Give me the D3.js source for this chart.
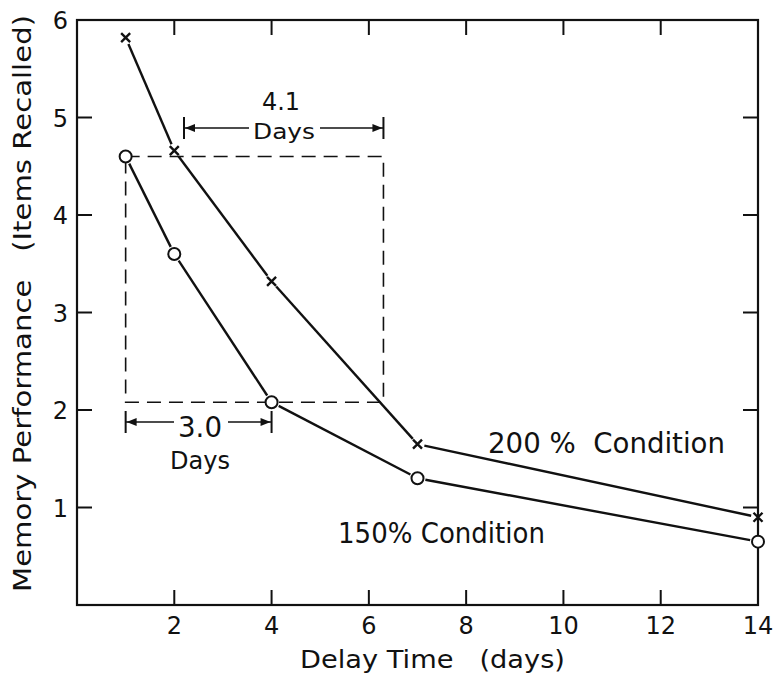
<!DOCTYPE html>
<html>
<head>
<meta charset="utf-8">
<script src="https://cdn.jsdelivr.net/npm/d3@7"></script>
<style>
  body { margin: 0; background: #fff; }
  text { font-family: 'DejaVu Sans', sans-serif; fill: #111; }
</style>
</head>
<body>
<div class="chart"></div>
<script>
// Memory performance vs delay time, two conditions
const width = 773;
const height = 675;
const margin = {top: 20, left: 77, right: 15, bottom: 70};

// data
const delayDays = [1, 2, 4, 7, 14];
const recall200 = [5.82, 4.66, 3.32, 1.65, 0.9];
const recall150 = [4.6, 3.6, 2.08, 1.3, 0.65];
const xTicks = [2, 4, 6, 8, 10, 12, 14];
const yTicks = [1, 2, 3, 4, 5, 6];

// the dashed box and the two "days" annotations
const boxDays = [1, 6.3];
const boxRecall = [2.08, 4.6];
const span41 = [2.2, 6.3];
const span30 = [1, 4];

const x = d3.scaleLinear().domain([0, 14]).range([margin.left, width - margin.right]);
const y = d3.scaleLinear().domain([0, 6]).range([height - margin.bottom, margin.top]);

const svg = d3.select('.chart').append('svg')
    .attr('width', width)
    .attr('height', height);

const x0 = x.range()[0], x1 = x.range()[1];
const y0 = y.range()[0], y1 = y.range()[1];

// frame
svg.append('rect')
    .attr('x', x0).attr('y', y1)
    .attr('width', x1 - x0).attr('height', y0 - y1)
    .attr('fill', 'none').attr('stroke', '#111').attr('stroke-width', 2.2);

// inward ticks on all four sides
const tickLen = 15;
xTicks.filter(d => d < 14).forEach(d => {
    svg.append('line').attr('x1', x(d)).attr('x2', x(d)).attr('y1', y0).attr('y2', y0 - tickLen)
        .attr('stroke', '#111').attr('stroke-width', 2);
    svg.append('line').attr('x1', x(d)).attr('x2', x(d)).attr('y1', y1).attr('y2', y1 + tickLen)
        .attr('stroke', '#111').attr('stroke-width', 2);
});
yTicks.filter(d => d < 6).forEach(d => {
    svg.append('line').attr('x1', x0).attr('x2', x0 + tickLen).attr('y1', y(d)).attr('y2', y(d))
        .attr('stroke', '#111').attr('stroke-width', 2);
    svg.append('line').attr('x1', x1).attr('x2', x1 - tickLen).attr('y1', y(d)).attr('y2', y(d))
        .attr('stroke', '#111').attr('stroke-width', 2);
});

// tick labels
svg.selectAll('.xlab').data(xTicks).enter().append('text')
    .attr('x', d => x(d)).attr('y', y0 + 29)
    .attr('text-anchor', 'middle')
    .attr('font-size', 24)
    .text(d => d);

svg.selectAll('.ylab').data(yTicks).enter().append('text')
    .attr('x', x0 - 9).attr('y', d => y(d) + 9)
    .attr('text-anchor', 'end')
    .attr('font-size', 24)
    .text(d => d);

// axis titles
svg.append('text')
    .attr('x', 300).attr('y', height - 7)
    .attr('font-size', 24)
    .attr('textLength', 265).attr('lengthAdjust', 'spacingAndGlyphs')
    .attr('xml:space', 'preserve')
    .text('Delay Time   (days)');

svg.append('text')
    .attr('transform', `translate(31,592) rotate(-90)`)
    .attr('font-size', 25)
    .attr('textLength', 577).attr('lengthAdjust', 'spacingAndGlyphs')
    .attr('xml:space', 'preserve')
    .text('Memory Performance   (Items Recalled)');

// dashed box
svg.append('rect')
    .attr('x', x(boxDays[0])).attr('y', y(boxRecall[1]))
    .attr('width', x(boxDays[1]) - x(boxDays[0]))
    .attr('height', y(boxRecall[0]) - y(boxRecall[1]))
    .attr('fill', 'none').attr('stroke', '#111').attr('stroke-width', 1.6)
    .attr('stroke-dasharray', '14,8');

// lines with small gaps around markers
function drawSeries(vals, gap) {
    for (let i = 0; i < delayDays.length - 1; i++) {
        const ax = x(delayDays[i]), ay = y(vals[i]);
        const bx = x(delayDays[i + 1]), by = y(vals[i + 1]);
        const len = Math.hypot(bx - ax, by - ay);
        const ux = (bx - ax) / len, uy = (by - ay) / len;
        svg.append('line')
            .attr('x1', ax + ux * gap).attr('y1', ay + uy * gap)
            .attr('x2', bx - ux * gap).attr('y2', by - uy * gap)
            .attr('stroke', '#111').attr('stroke-width', 2.4);
    }
}
drawSeries(recall200, 7);
drawSeries(recall150, 8);

// x markers
const xs = 4.5;
delayDays.forEach((d, i) => {
    const cx = x(d), cy = y(recall200[i]);
    svg.append('path')
        .attr('d', `M${cx - xs},${cy - xs}L${cx + xs},${cy + xs}M${cx - xs},${cy + xs}L${cx + xs},${cy - xs}`)
        .attr('stroke', '#111').attr('stroke-width', 2.4);
});

// circle markers
svg.selectAll('.circ').data(delayDays).enter().append('circle')
    .attr('cx', d => x(d))
    .attr('cy', (d, i) => y(recall150[i]))
    .attr('r', 6)
    .attr('fill', '#fff').attr('stroke', '#111').attr('stroke-width', 2);

// span annotation: bars at ends, arrows toward ends, text in middle
function spanArrow(span, yy, gapL, gapR) {
    const a = x(span[0]), b = x(span[1]);
    svg.append('line').attr('x1', a).attr('x2', a).attr('y1', yy - 11).attr('y2', yy + 11)
        .attr('stroke', '#111').attr('stroke-width', 2);
    svg.append('line').attr('x1', b).attr('x2', b).attr('y1', yy - 11).attr('y2', yy + 11)
        .attr('stroke', '#111').attr('stroke-width', 2);
    svg.append('line').attr('x1', a).attr('x2', gapL).attr('y1', yy).attr('y2', yy)
        .attr('stroke', '#111').attr('stroke-width', 1.6);
    svg.append('line').attr('x1', gapR).attr('x2', b).attr('y1', yy).attr('y2', yy)
        .attr('stroke', '#111').attr('stroke-width', 1.6);
    svg.append('path')
        .attr('d', `M${a + 1},${yy}L${a + 11},${yy - 4}L${a + 11},${yy + 4}Z`)
        .attr('fill', '#111');
    svg.append('path')
        .attr('d', `M${b - 1},${yy}L${b - 11},${yy - 4}L${b - 11},${yy + 4}Z`)
        .attr('fill', '#111');
}
spanArrow(span41, 128, 249, 320);
spanArrow(span30, 422, 174, 228);

svg.append('text').attr('x', 262).attr('y', 110)
    .attr('font-size', 24).attr('textLength', 38).attr('lengthAdjust', 'spacingAndGlyphs').text('4.1');
svg.append('text').attr('x', 253).attr('y', 139)
    .attr('font-size', 22).attr('textLength', 62).attr('lengthAdjust', 'spacingAndGlyphs').text('Days');
svg.append('text').attr('x', 178).attr('y', 437)
    .attr('font-size', 28).attr('textLength', 44).attr('lengthAdjust', 'spacingAndGlyphs').text('3.0');
svg.append('text').attr('x', 170).attr('y', 469)
    .attr('font-size', 24).attr('textLength', 60).attr('lengthAdjust', 'spacingAndGlyphs').text('Days');

// condition labels
svg.append('text').attr('x', 488).attr('y', 453)
    .attr('font-size', 28).attr('textLength', 237).attr('lengthAdjust', 'spacingAndGlyphs')
    .attr('xml:space', 'preserve').text('200 %  Condition');
svg.append('text').attr('x', 338).attr('y', 543)
    .attr('font-size', 28).attr('textLength', 207).attr('lengthAdjust', 'spacingAndGlyphs')
    .text('150% Condition');
</script>
</body>
</html>
